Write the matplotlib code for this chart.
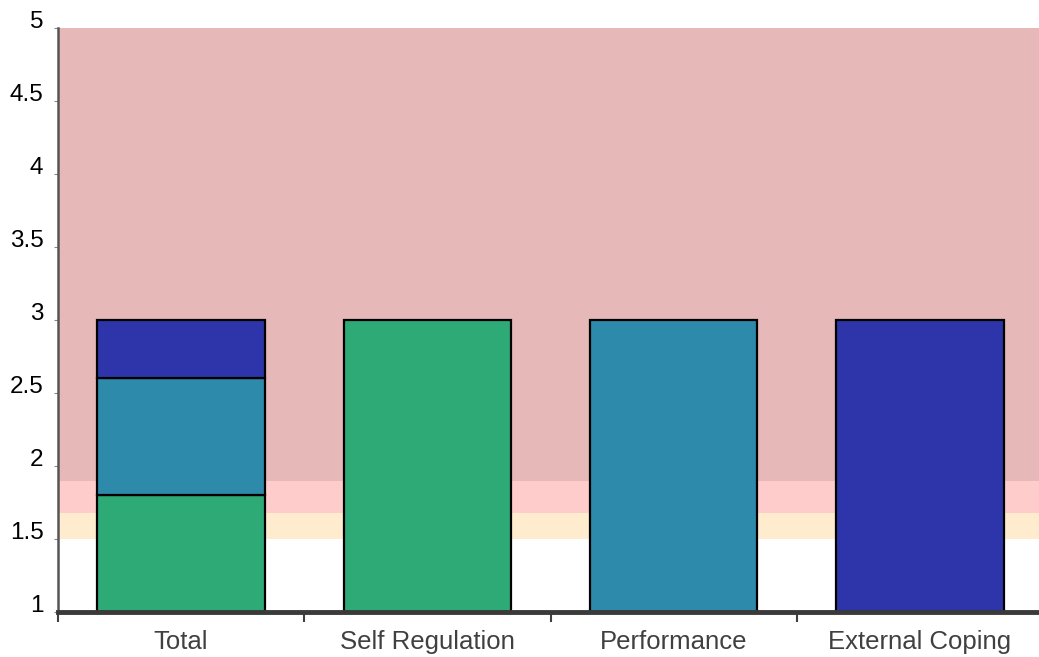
import matplotlib.pyplot as plt

plt.rcParams['font.family'] = ['Liberation Sans', 'DejaVu Sans']

categories = ["Total", "Self Regulation", "Performance", "External Coping"]
subscales = ["Self Regulation", "Performance", "External Coping"]
subscale_scores = [3.0, 3.0, 3.0]
# pieces of the Total bar, stacked from the axis floor
total_parts = [0.8, 0.8, 0.4]
base = 1.0

band_edges = [1.0, 1.5, 1.68, 1.9, 5.0]
band_colors = ["#FFFFFF", "#FFEBCD", "#FFCCCC", "#E6B8B7"]
bar_colors = ["#2EAA76", "#2E8AAA", "#2E35AA"]

fig = plt.figure(figsize=(10.39, 6.57), dpi=100)
ax = fig.add_axes([58 / 1039, 45 / 657, 985 / 1039, 584 / 657])

for lo, hi, c in zip(band_edges[:-1], band_edges[1:], band_colors):
    ax.axhspan(lo, hi, color=c, lw=0, zorder=0)

w = 0.68
bottom = base
for part, c in zip(total_parts, bar_colors):
    ax.bar(0, part, bottom=bottom, width=w, color=c, edgecolor="black", lw=1.6, zorder=2)
    bottom += part

for i, (score, c) in enumerate(zip(subscale_scores, bar_colors), start=1):
    ax.bar(i, score - base, bottom=base, width=w, color=c, edgecolor="black", lw=1.6, zorder=2)

ax.set_xlim(-0.5, 3.5)
ax.set_ylim(1, 5)
ax.set_yticks([1, 1.5, 2, 2.5, 3, 3.5, 4, 4.5, 5])
ax.set_yticklabels(["1", "1.5", "2", "2.5", "3", "3.5", "4", "4.5", "5"], fontsize=17.5)
for lab in ax.get_yticklabels():
    lab.set_verticalalignment("baseline")

ax.set_xticks([-0.5, 0.5, 1.5, 2.5, 3.5])
ax.set_xticklabels([])
ax.set_xticks(range(len(categories)), minor=True)
ax.set_xticklabels(categories, minor=True, fontsize=18.5, color="#404040")
ax.tick_params(axis="x", which="major", length=7, width=1.5, color="#404040", direction="out")
ax.tick_params(axis="x", which="minor", length=0, pad=13)
ax.tick_params(axis="y", length=3, width=0.8, color="#888888", pad=7.5)

for s in ["top", "right"]:
    ax.spines[s].set_visible(False)
ax.spines["left"].set_color("#555555")
ax.spines["left"].set_linewidth(1.8)
ax.spines["bottom"].set_color("#3a3a3a")
ax.spines["bottom"].set_linewidth(3.5)
ax.spines["bottom"].set_zorder(3)

fig.savefig("out.png", dpi=100)
